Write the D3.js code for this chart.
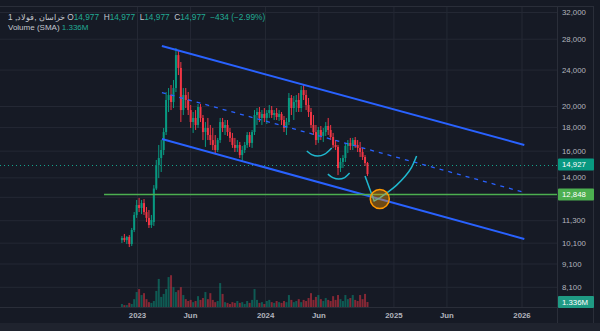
<!DOCTYPE html>
<html><head><meta charset="utf-8">
<script src="https://cdn.jsdelivr.net/npm/d3@7"></script>
<style>html,body{margin:0;padding:0;background:#161a25;overflow:hidden}svg{display:block}</style>
</head><body><svg id="c" width="600" height="331"></svg>
<script>
// ---------- data ----------
const firstBarDate = "2022-11-19"; // weekly bars
const opens = [10230,10340,10230,10390,10030,10760,11600,12190,12010,12310,
11770,11430,11030,11200,13240,14890,15420,16050,17560,20610,
21130,20400,21880,25800,24190,19600,21130,20610,19600,18460,
18840,18190,19900,18840,17560,17920,17300,16870,16460,16050,
16870,18460,17920,18190,17560,17050,16460,16220,16460,15650,
16050,16460,17300,16630,17560,19120,19410,18840,19220,18840,
19310,19600,19120,19310,18930,19220,18650,17920,18460,20820,
19800,20400,20610,19800,21660,21130,20100,19410,18190,17560,
16870,17740,17220,17560,18100,17740,17130,16460,16300,14670,
15120,15420,16380,16630,16380,16870,16460,16220,15890,15500,
15040];
const highs = [10440,10550,10440,10490,10870,11770,12500,12630,12500,12560,
12070,11890,11600,13470,15270,16460,16870,17920,21450,21880,
22210,22780,26730,26460,24920,21880,21880,21450,20100,19410,
19600,20200,20200,19120,18460,18840,18190,17920,17300,17050,
18840,18840,18650,18650,17920,17480,17050,16870,16710,16380,
16710,17560,17560,17740,19600,19800,19900,19600,19800,19600,
20100,20000,19600,19800,19600,19410,19030,18840,21340,21130,
21020,21130,21340,22100,22210,21660,20820,19800,19120,18190,
18010,18100,17920,18460,18840,18190,17480,16870,16460,15420,
15650,16630,16870,17050,17050,17130,16870,16710,16220,15650,
15120];
const lows = [10080,10130,10030,9880,9930,10650,11430,11770,11650,11600,
11200,10870,10870,10980,13140,13950,14380,15650,17300,19410,
19600,19800,21450,23350,18460,19120,19800,19120,17920,17480,
17740,17920,18460,16870,16300,16870,16460,16050,15810,15890,
16630,17560,17300,17220,16710,16220,15890,15890,15420,15120,
15810,16220,16300,16220,17300,18190,18460,18190,18460,18280,
18840,18840,18650,18650,18560,18190,17560,17300,18190,19120,
18650,19410,19410,19410,20610,19600,18930,17920,17300,16460,
16630,16870,16710,17220,17300,16870,16220,16050,14160,14380,
14670,15120,15810,16050,16050,16220,15890,15500,15270,14820,
14090];
const closes = [10340,10230,10390,10030,10760,11600,12190,12010,12310,11770,
11430,11030,11310,13240,14890,15420,16050,17560,20610,21130,
20400,21880,25800,24190,19600,21130,20610,19600,18460,18840,
18190,19900,18840,17560,17920,17300,16870,16460,16050,16870,
18460,17920,18190,17560,17050,16460,16220,16460,15650,16050,
16460,17300,16630,17560,19120,19410,18840,19220,18840,19310,
19600,19120,19310,18930,19220,18650,17920,18460,20820,19800,
20400,20610,19800,21660,21130,20100,19410,18190,17560,16870,
17740,17220,17560,18100,17740,17130,16460,16300,14670,15120,
15420,16380,16630,16380,16870,16460,16220,15890,15500,15040,
14230];
const volumesM = [0.8,0.5,0.5,1.1,0.8,2.1,4.0,4.8,3.2,3.7,
2.1,1.3,1.1,1.6,4.3,7.5,2.7,3.5,4.8,8.0,
8.5,5.3,4.0,4.5,5.3,3.2,2.1,1.6,1.9,1.3,
1.6,2.9,1.9,2.4,4.0,2.1,3.7,1.9,1.3,1.6,
6.4,3.5,1.3,1.1,0.8,1.3,1.1,1.6,1.1,1.3,
0.8,1.6,1.1,1.9,4.8,1.9,1.1,1.3,0.8,1.6,
1.9,1.3,1.1,1.6,1.3,1.1,1.6,1.3,3.2,1.9,
1.3,1.6,2.1,1.3,1.9,1.6,2.4,3.7,1.9,2.7,
3.2,2.1,1.6,2.4,1.9,1.6,2.9,1.9,3.2,2.1,
1.6,3.2,2.1,2.4,3.2,1.9,1.6,3.2,2.1,3.5,
1.336];

const priceTicks = [32000,28000,24000,20000,18000,16000,14000,11300,10100,9100,8100];
const gridOnlyTicks = [12700];
const timeTicks = ["2023-01-01","2023-06-01","2024-01-01","2024-06-01","2025-01-01","2025-06-01","2026-01-01"];
const timeTickLabels = ["2023","Jun","2024","Jun","2025","Jun","2026"];

const channelUpper = [{date:"2023-03-13",price:26990},{date:"2026-01-09",price:16460}];
const channelLower = [{date:"2023-03-13",price:16960},{date:"2026-01-09",price:10285}];
const channelMid   = [{date:"2023-03-13",price:21395},{date:"2026-01-09",price:12980}];
const supportLevel = {start:"2022-09-29", price:12848};
const lastPriceLine = 14927;
const lastVolume = 1.336;

const arc1 = [{date:"2024-04-29",price:15970},{date:"2024-05-13",price:15690},{date:"2024-05-30",price:15570},{date:"2024-06-19",price:15730},{date:"2024-07-09",price:16220}];
const arc2 = [{date:"2024-06-28",price:14230},{date:"2024-07-12",price:13985},{date:"2024-07-29",price:13880},{date:"2024-08-15",price:13985},{date:"2024-08-29",price:14300}];
const dropV = [{date:"2024-10-12",price:14090},{date:"2024-10-25",price:13240},{date:"2024-11-07",price:12440},{date:"2024-11-23",price:12630}];
const recovery = [{date:"2024-11-23",price:12630},{date:"2024-12-13",price:12950},{date:"2025-01-10",price:13470},{date:"2025-02-04",price:14090},{date:"2025-02-22",price:14740},{date:"2025-03-08",price:15570}];
const targetCircle = {date:"2024-11-23", price:12560};

const NB = "\u00A0";
const headerParts = [
  ["1"+NB+",","lbl"],["فولاد","lbl"],[","+NB,"lbl"],["خراسان","lbl"],[NB+"O","lbl"],["14,977","val"],
  [NB+NB+"H","lbl"],["14,977","val"],[NB+NB+"L","lbl"],["14,977","val"],[NB+NB+"C","lbl"],["14,977","val"],
  [NB+NB+"−434"+NB+"(−2.99%)","val"]
];
const header2 = [["Volume"+NB+"(SMA)"+NB,"lbl"],["1.336M","val"]];

// ---------- chart ----------
const W=600,H=331;
const plotTop=6, plotRight=557, plotBottom=307, frameRight=593, axisBottom=323;
const UP="#089981", DOWN="#f23645", BLUE="#2962ff", CYAN="#1fb8cf", GREEN="#4caf50";
const FONT="'Liberation Sans', Arial, sans-serif";
const P = d3.utcParse("%Y-%m-%d");

const svg = d3.select("#c");
svg.append("rect").attr("width",W).attr("height",H).attr("fill","#161a25");
svg.append("rect").attr("x",0).attr("y",axisBottom).attr("width",W).attr("height",H-axisBottom).attr("fill","#1f232e");

const x = d3.scaleUtc().domain([P("2023-01-01"),P("2026-01-01")]).range([137,521.5]);
const y = d3.scaleLog().domain([8100,32000]).range([286.8,12]);
const v = d3.scaleLinear().domain([0,10]).range([plotBottom, plotBottom-37.4]);

const start = P(firstBarDate);
const bars = opens.map((o,i)=>({date:d3.utcDay.offset(start,7*i),o,h:highs[i],l:lows[i],c:closes[i],vol:volumesM[i]}));

svg.append("clipPath").attr("id","plot").append("rect")
  .attr("x",0).attr("y",plotTop).attr("width",plotRight).attr("height",plotBottom-plotTop);

// grid
const grid = svg.append("g").attr("clip-path","url(#plot)");
grid.append("g")
  .call(d3.axisRight(y).tickValues(priceTicks.concat(gridOnlyTicks)).tickSize(plotRight).tickFormat(""))
  .call(g=>g.select(".domain").remove())
  .call(g=>g.selectAll("line").attr("stroke","#242834").attr("stroke-width",1));
grid.append("g")
  .call(d3.axisBottom(x).tickValues(timeTicks.map(P)).tickSize(plotBottom).tickFormat(""))
  .call(g=>g.select(".domain").remove())
  .call(g=>g.selectAll("line").attr("stroke","#242834").attr("stroke-width",1));

const plot = svg.append("g").attr("clip-path","url(#plot)");

// last price dotted line
plot.append("line").attr("x1",0).attr("x2",plotRight)
  .attr("y1",Math.round(y(lastPriceLine))+0.5).attr("y2",Math.round(y(lastPriceLine))+0.5)
  .attr("stroke","#14a48c").attr("stroke-width",1).attr("stroke-dasharray","1,3");

// volume
plot.append("g").selectAll("rect").data(bars).join("rect")
  .attr("x",d=>x(d.date)-1).attr("width",2)
  .attr("y",d=>v(d.vol)).attr("height",d=>plotBottom-v(d.vol))
  .attr("fill",d=>d.c>=d.o?UP:DOWN).attr("opacity",0.5);

// candles
const cg = plot.append("g");
cg.selectAll("line").data(bars).join("line")
  .attr("x1",d=>x(d.date)).attr("x2",d=>x(d.date))
  .attr("y1",d=>y(d.h)).attr("y2",d=>y(d.l))
  .attr("stroke",d=>d.c>=d.o?UP:DOWN).attr("stroke-width",1);
cg.selectAll("rect").data(bars).join("rect")
  .attr("x",d=>x(d.date)-1).attr("width",2)
  .attr("y",d=>y(Math.max(d.o,d.c)))
  .attr("height",d=>Math.max(1,Math.abs(y(d.o)-y(d.c))))
  .attr("fill",d=>d.c>=d.o?UP:DOWN);

// channel
const ln = d3.line().x(d=>x(P(d.date))).y(d=>y(d.price));
plot.append("path").attr("d",ln(channelUpper)).attr("stroke",BLUE).attr("stroke-width",2).attr("fill","none");
plot.append("path").attr("d",ln(channelLower)).attr("stroke",BLUE).attr("stroke-width",2).attr("fill","none");
plot.append("path").attr("d",ln(channelMid)).attr("stroke",BLUE).attr("stroke-width",1.3).attr("stroke-dasharray","4,5").attr("fill","none");

// support
const sy = y(supportLevel.price);
plot.append("line").attr("x1",x(P(supportLevel.start))).attr("x2",plotRight).attr("y1",sy).attr("y2",sy)
  .attr("stroke",GREEN).attr("stroke-width",1.5);

// annotations
const curve = d3.line().x(d=>x(P(d.date))).y(d=>y(d.price)).curve(d3.curveCatmullRom);
plot.append("path").attr("d",curve(arc1)).attr("stroke",CYAN).attr("stroke-width",1.5).attr("fill","none");
plot.append("path").attr("d",curve(arc2)).attr("stroke",CYAN).attr("stroke-width",1.5).attr("fill","none");
plot.append("path").attr("d",ln(dropV)).attr("stroke",CYAN).attr("stroke-width",1.5).attr("fill","none");
plot.append("path").attr("d",curve(recovery)).attr("stroke",CYAN).attr("stroke-width",1.5).attr("fill","none");
plot.append("circle").attr("cx",x(P(targetCircle.date))).attr("cy",y(targetCircle.price)).attr("r",9.5)
  .attr("fill","rgba(255,152,0,0.38)").attr("stroke","#ff9800").attr("stroke-width",1.5);

// frame lines
const frame = svg.append("g").attr("stroke","#2a2e39").attr("stroke-width",1);
frame.append("line").attr("x1",0).attr("x2",frameRight).attr("y1",plotTop+0.5).attr("y2",plotTop+0.5);
frame.append("line").attr("x1",plotRight+0.5).attr("x2",plotRight+0.5).attr("y1",plotTop).attr("y2",axisBottom);
frame.append("line").attr("x1",frameRight+0.5).attr("x2",frameRight+0.5).attr("y1",plotTop).attr("y2",axisBottom);
frame.append("line").attr("x1",0).attr("x2",frameRight).attr("y1",plotBottom+0.5).attr("y2",plotBottom+0.5);

// price axis
svg.append("g").attr("transform",`translate(${plotRight},0)`)
  .call(d3.axisRight(y).tickValues(priceTicks).tickSize(0).tickPadding(5).tickFormat(d3.format(",")))
  .call(g=>g.select(".domain").remove())
  .call(g=>g.selectAll("text").attr("fill","#b2b5be").style("font-family",FONT).style("font-size","7.8px"));

// time axis
svg.append("g").attr("transform",`translate(0,${plotBottom})`)
  .call(d3.axisBottom(x).tickValues(timeTicks.map(P)).tickSize(0).tickPadding(5).tickFormat((d,i)=>timeTickLabels[i]))
  .call(g=>g.select(".domain").remove())
  .call(g=>g.selectAll("text").attr("fill","#b2b5be").style("font-family",FONT).style("font-size","7.8px").style("font-weight","bold"));

// axis boxes
function box(yy, txt, color){
  const g = svg.append("g");
  g.append("rect").attr("x",plotRight+1).attr("y",yy-6).attr("width",36).attr("height",12).attr("fill",color).attr("rx",1);
  g.append("text").attr("x",plotRight+5).attr("y",yy).attr("dy","0.35em").text(txt)
    .attr("fill","#ffffff").style("font-family",FONT).style("font-size","7.8px");
}
box(y(lastPriceLine), d3.format(",")(lastPriceLine), UP);
box(sy, d3.format(",")(supportLevel.price), GREEN);
box(v(lastVolume), lastVolume.toFixed(3)+"M", "#1f9a84");

// header
function headerLine(parts, yy, fs){
  let cx = 8;
  parts.forEach(([t,k])=>{
    const el = svg.append("text").attr("x",cx).attr("y",yy).text(t)
      .attr("direction","ltr")
      .attr("fill",k==="val"?"#22ab94":"#c3c6ce").style("font-family",FONT).style("font-size",fs+"px");
    cx += el.node().getComputedTextLength();
  });
}
headerLine(headerParts, 19.5, 8.3);
headerLine(header2, 29.5, 8);
</script></body></html>
